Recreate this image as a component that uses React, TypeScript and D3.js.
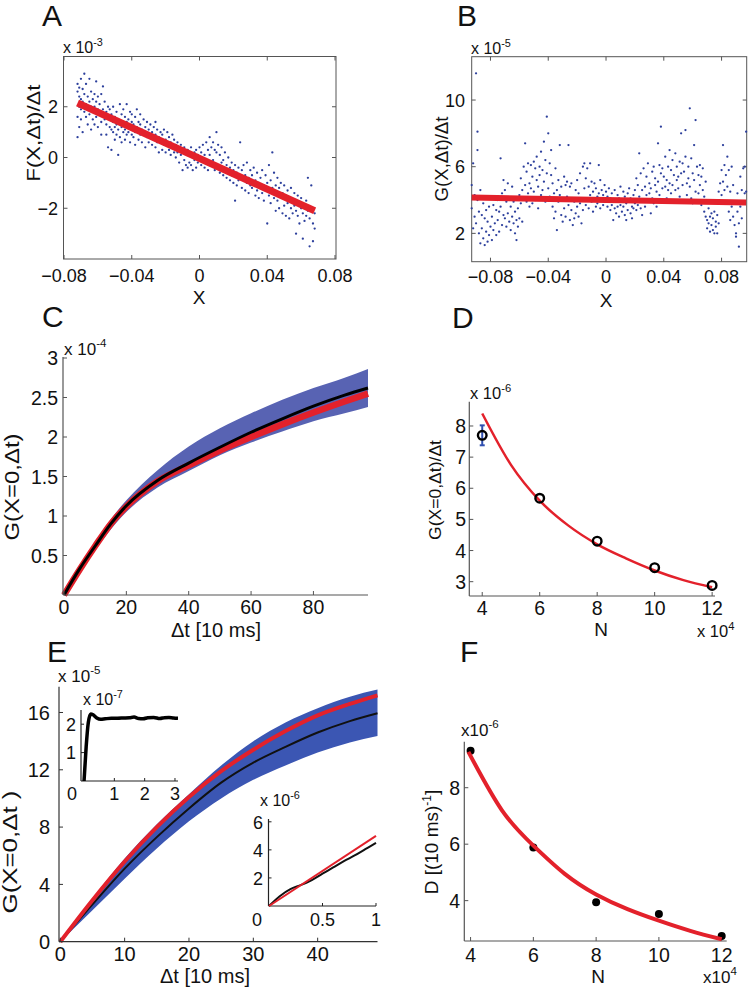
import React from "react";
import * as d3 from "d3";

const FONT = "'Liberation Sans', Arial, Helvetica, sans-serif";
const RED = "#e3212b";
const AXC = "#555";
const DOT = "#2c3f9c";

// ---------- Panel A: x in thousandths, y in 1e-3 units ----------
const aTicksX = [-0.08, -0.04, 0, 0.04, 0.08];
const aTickLabelsX = ["−0.08", "−0.04", "0", "0.04", "0.08"];
const aTicksY = [-2, 0, 2];
const aTickLabelsY = ["−2", "0", "2"];
const aFitX = [-0.072, 0.068];
const aFitY = [2.15, -2.1];
const aPoints: [number, number][] = [
[-72,2.9],[-72,2.6],[-72,1.6],[-72,0.8],[-71,2.4],[-71,2.0],[-71,1.2],[-71,2.75],[-70,3.1],[-70,2.3],[-70,1.9],[-70,1.5],[-69,2.7],[-69,2.2],[-69,1.0],[-68,3.3],[-68,2.5],[-68,1.8],[-67,2.9],[-67,2.1],[-67,1.6],[-66,2.4],[-66,1.9],[-66,1.3],[-65,3.1],[-65,2.2],[-65,1.7],[-64,2.6],[-64,2.0],[-64,1.1],[-63,2.3],[-63,1.8],[-63,1.5],[-62,2.5],[-62,2.0],[-62,1.3],[-61,3.0],[-61,2.2],[-61,1.6],[-60,2.4],[-60,1.9],[-60,1.2],
[-59,2.1],[-59,1.7],[-58,2.5],[-58,1.4],[-58,0.9],[-57,2.8],[-57,1.9],[-57,1.6],[-56,2.2],[-56,1.5],[-55,1.8],[-55,1.3],[-55,0.9],[-54,2.0],[-54,1.6],[-54,0.4],[-53,1.9],[-53,1.2],[-53,1.5],[-52,1.7],[-52,1.1],[-52,0.3],[-51,2.0],[-51,1.4],[-51,1.0],[-50,1.6],[-50,1.2],[-50,0.7],[-49,1.8],[-49,1.3],[-49,0.9],[-48,1.5],[-48,1.1],[-48,0.1],[-47,2.1],[-47,1.4],[-47,0.8],[-46,1.7],[-46,1.2],[-46,0.6],[-45,1.9],[-45,1.3],[-45,1.0],
[-44,1.6],[-44,1.1],[-44,0.7],[-43,2.1],[-43,1.4],[-43,0.9],[-42,1.5],[-42,1.0],[-41,1.8],[-41,1.2],[-41,0.6],[-40,1.4],[-40,0.9],[-40,1.7],[-39,1.3],[-39,0.8],[-38,1.6],[-38,1.0],[-38,0.5],[-37,1.9],[-37,1.2],[-36,1.4],[-36,0.7],[-35,1.3],[-35,0.9],[-35,1.7],[-34,1.1],[-34,0.6],[-33,1.5],[-33,1.0],[-32,1.2],[-32,0.4],[-31,1.4],[-31,0.8],[-30,1.1],[-30,0.6],
[-29,1.3],[-29,0.8],[-28,1.0],[-28,0.5],[-27,1.2],[-27,0.7],[-26,0.9],[-26,0.4],[-26,1.4],[-25,1.1],[-25,0.6],[-24,0.8],[-24,0.2],[-23,1.0],[-23,0.6],[-22,0.9],[-22,0.3],[-21,1.1],[-21,0.5],[-20,0.7],[-20,0.2],[-19,1.0],[-19,0.6],[-18,0.8],[-18,0.3],[-17,0.6],[-17,0.1],[-16,0.9],[-16,0.4],[-15,0.7],[-15,0.2],
[-14,0.5],[-14,0.0],[-13,0.6],[-13,0.2],[-12,0.3],[-12,-0.2],[-11,0.5],[-11,0.1],[-10,-0.5],[-10,0.3],[-9,0.4],[-9,-0.1],[-8,0.2],[-8,-0.3],[-7,0.3],[-7,-0.4],[-6,0.1],[-6,-0.2],[-5,0.4],[-5,-0.3],[-4,0.0],[-4,-0.5],[-3,0.2],[-3,-0.1],[-2,0.3],[-2,-0.4],[-1,0.1],[-1,-0.2],[0,0.4],[0,-0.1],
[1,0.2],[1,-0.3],[2,0.5],[2,-0.1],[3,0.1],[3,-0.4],[4,0.6],[4,-0.2],[5,0.3],[5,-0.5],[6,0.8],[6,0.1],[7,0.4],[7,-0.3],[8,0.6],[8,-0.1],[9,0.3],[9,-0.5],[10,1.0],[10,0.2],[11,0.5],[11,-0.4],[12,0.1],[12,-0.6],[13,0.4],[13,-0.2],[14,-0.1],[14,-0.7],[15,0.2],[15,-0.5],
[16,-0.3],[16,-0.8],[17,0.0],[17,-0.6],[18,-0.4],[18,-0.9],[19,-0.2],[19,-0.7],[20,-0.5],[20,-1.0],[21,-0.3],[21,-1.7],[22,-0.6],[22,-1.1],[23,-0.4],[23,-0.9],[24,0.6],[24,-0.7],[25,-0.5],[25,-1.2],[26,-0.3],[26,-0.9],[27,-0.7],[27,-1.3],[28,-0.2],[28,-1.0],[29,-0.8],[29,-1.4],[30,-0.5],[30,-1.1],
[31,-0.7],[31,-1.2],[32,-0.4],[32,-1.0],[33,-0.9],[33,-1.5],[34,-0.6],[34,-1.3],[35,-1.0],[35,-1.6],[36,-0.8],[36,-1.2],[37,-0.5],[37,-1.4],[38,-1.1],[38,-1.7],[39,-0.7],[39,-1.3],[40,-1.0],[40,-2.6],[41,-0.3],[41,-1.5],[42,-0.9],[42,-1.8],[43,0.2],[43,-1.2],[44,-0.6],[44,-1.6],[45,-1.1],[45,-2.1],
[46,-0.8],[46,-1.7],[47,-1.2],[47,-2.0],[48,-1.0],[48,-1.5],[49,-1.4],[49,-2.2],[50,-1.1],[50,-1.9],[51,-1.5],[51,-2.3],[52,-1.3],[52,-1.8],[53,-1.6],[53,-2.4],[54,-1.2],[54,-2.0],[55,-1.7],[55,-2.2],[56,-1.4],[56,-1.9],[57,-2.1],[57,-3.0],[58,-1.5],[58,-2.3],[59,-1.8],[59,-2.6],[60,-1.6],[60,-2.0],[61,-2.2],[61,-3.2],[62,-1.9],[62,-2.5],[63,-1.7],[63,-2.3],[64,-0.8],[64,-2.1],[65,-2.4],[65,-3.5],[66,-1.1],[66,-2.0],[67,-2.6],[67,-3.3],[68,-2.2],[68,-2.8]
];

// ---------- Panel B: x in thousandths, y in 1e-5 units ----------
const bTicksX = [-0.08, -0.04, 0, 0.04, 0.08];
const bTickLabelsX = ["−0.08", "−0.04", "0", "0.04", "0.08"];
const bTicksY = [2, 6, 10];
const bFitX = [-0.093, 0.097];
const bFitY = [4.15, 3.85];
const bPoints: [number, number][] = [
[-93,3.5],[-93,4.9],[-92,2.3],[-92,6.2],[-91,4.3],[-91,3.0],[-90,11.6],[-90,2.6],[-89,8.1],[-89,4.0],[-89,7.0],[-88,3.3],[-88,2.0],[-87,4.6],[-87,1.4],[-86,3.1],[-86,2.3],[-85,3.8],[-85,1.7],[-84,2.9],[-84,1.3],[-83,3.4],[-83,2.1],[-82,1.5],[-82,2.7],[-81,3.6],[-81,1.9],[-80,2.4],[-80,4.2],
[-79,3.0],[-79,1.6],[-78,2.2],[-78,3.7],[-77,4.2],[-77,2.6],[-76,3.4],[-76,1.9],[-75,2.8],[-75,4.0],[-74,3.3],[-74,2.1],[-73,6.5],[-73,3.6],[-72,2.5],[-72,4.4],[-71,3.1],[-71,5.2],[-70,2.9],[-70,4.6],[-69,3.9],[-69,2.4],[-68,5.0],[-68,3.2],[-67,4.1],[-67,2.7],[-66,3.6],[-66,2.2],[-65,4.8],[-65,3.0],[-64,2.6],[-64,3.9],[-63,3.3],[-63,2.0],[-62,2.8],[-62,1.6],[-61,3.5],[-61,2.4],[-60,4.3],[-60,2.9],
[-59,3.8],[-59,5.3],[-58,4.6],[-58,2.7],[-57,6.0],[-57,4.1],[-56,7.4],[-56,4.9],[-55,3.9],[-55,5.7],[-54,4.4],[-54,6.2],[-53,3.6],[-53,5.0],[-52,4.7],[-52,6.1],[-51,5.4],[-51,3.8],[-50,6.3],[-50,4.5],[-49,5.9],[-49,4.0],[-48,6.6],[-48,5.2],[-47,4.8],[-47,3.5],[-46,5.5],[-46,6.0],[-45,4.3],[-45,6.9],[-44,5.8],[-44,4.6],[-43,7.5],[-43,5.1],[-42,6.4],[-42,3.9],[-41,9.0],[-41,5.6],[-40,8.0],[-40,4.7],
[-39,6.2],[-39,4.2],[-38,5.5],[-38,7.0],[-37,3.6],[-37,5.0],[-36,4.4],[-36,2.9],[-35,5.9],[-35,3.3],[-34,4.6],[-34,2.2],[-33,5.2],[-33,3.9],[-32,7.3],[-32,4.3],[-31,3.1],[-31,4.8],[-30,2.7],[-30,4.0],[-29,3.5],[-29,5.4],[-28,4.9],[-28,3.0],[-27,4.2],[-27,5.1],[-26,7.3],[-26,3.7],[-25,4.8],[-25,2.8],[-24,3.4],[-24,5.0],[-23,2.5],[-23,4.1],[-22,3.9],[-22,2.9],[-21,4.6],[-21,3.2],[-20,5.2],[-20,3.6],
[-19,4.4],[-19,3.0],[-18,3.8],[-18,5.6],[-17,4.0],[-17,2.6],[-16,6.0],[-16,3.4],[-15,4.7],[-15,6.2],[-14,5.3],[-14,3.7],[-13,4.1],[-13,5.9],[-12,3.5],[-12,4.8],[-11,6.2],[-11,4.3],[-10,5.1],[-10,3.9],[-9,4.5],[-9,3.3],[-8,5.0],[-8,4.0],[-7,3.6],[-7,4.7],[-6,4.2],[-6,3.8],[-5,6.1],[-5,4.4],[-4,5.2],[-4,3.5],[-3,4.0],[-3,4.6],[-2,3.7],[-2,4.3],[-1,4.9],[-1,3.9],[0,4.1],[0,4.5],
[1,3.6],[1,4.2],[2,3.9],[2,4.7],[3,3.4],[3,4.1],[4,4.4],[4,3.7],[5,2.8],[5,4.0],[6,3.5],[6,4.6],[7,3.9],[7,3.2],[8,4.3],[8,3.6],[9,3.0],[9,4.1],[10,3.7],[10,4.8],[11,3.3],[11,4.0],[12,4.5],[12,3.6],[13,3.1],[13,4.2],[14,3.8],[14,2.8],[15,4.4],[15,3.4],[16,3.9],[16,4.7],[17,3.2],[17,4.1],[18,3.6],[18,2.9],[19,4.3],[19,3.5],[20,3.8],[20,4.6],
[21,3.4],[21,5.3],[22,4.9],[22,3.7],[23,6.8],[23,4.2],[24,3.5],[24,5.6],[25,4.6],[25,3.1],[26,5.9],[26,4.0],[27,4.8],[27,3.6],[28,5.4],[28,4.3],[29,6.2],[29,3.9],[30,5.0],[30,4.4],[31,4.7],[31,3.2],[32,5.7],[32,4.1],[33,6.0],[33,3.8],[34,4.9],[34,5.3],[35,3.6],[35,4.5],[36,7.4],[36,5.1],[37,6.1],[37,4.3],[38,8.4],[38,5.6],[39,4.7],[39,5.9],[40,4.0],[40,5.4],
[41,6.6],[41,4.8],[42,5.2],[42,4.1],[43,6.0],[43,4.6],[44,7.0],[44,5.0],[45,4.4],[45,5.8],[46,6.4],[46,4.9],[47,5.5],[47,3.9],[48,6.8],[48,4.6],[49,5.2],[49,6.0],[50,4.7],[50,5.4],[51,6.3],[51,4.2],[52,8.0],[52,5.6],[53,4.9],[53,6.2],[54,5.7],[54,4.0],[55,8.2],[55,6.6],[56,5.0],[56,4.3],[57,6.0],[57,5.3],[58,9.5],[58,4.8],[59,6.5],[59,4.1],[60,5.6],[60,3.8],
[61,7.3],[61,5.2],[62,8.8],[62,4.5],[63,6.0],[63,3.9],[64,5.5],[64,4.4],[65,6.1],[65,4.9],[66,5.4],[66,3.7],[67,5.9],[67,4.6],[68,4.2],[68,3.3],[69,5.1],[69,3.0],[70,2.8],[70,2.3],[71,3.5],[71,2.6],[72,2.1],[72,3.0],[73,2.5],[73,3.2],[74,2.2],[74,2.9],[75,2.0],[75,3.3],[76,2.7],[76,2.4],[77,3.1],[77,2.0],[78,4.5],[78,2.6],[79,3.8],[79,5.0],[80,4.3],[80,5.8],
[81,5.1],[81,7.3],[82,4.6],[82,6.1],[83,5.5],[83,3.9],[84,6.6],[84,4.8],[85,5.8],[85,3.3],[86,4.5],[86,2.8],[87,3.6],[87,6.0],[88,3.0],[88,4.9],[89,2.5],[89,3.8],[90,2.0],[90,1.8],[91,3.3],[91,4.4],[92,1.2],[92,2.6],[93,5.4],[93,3.6],[94,4.6],[94,2.9],[95,5.9],[95,3.8],[96,6.0],[96,4.4],[97,8.1],[97,4.5]
];

// ---------- Panel C: Δt [10 ms], G ×1e-4 ----------
const cTicksX = [0, 20, 40, 60, 80];
const cTicksY = [0.5, 1, 1.5, 2, 2.5, 3];
const cT = [0, 5, 10, 15, 20, 30, 40, 50, 60, 70, 80, 90, 97.5];
const cMean = [0, 0.33, 0.62, 0.9, 1.13, 1.45, 1.67, 1.87, 2.06, 2.23, 2.39, 2.53, 2.62];
const cFit = [0, 0.32, 0.62, 0.9, 1.12, 1.44, 1.64, 1.83, 2.0, 2.16, 2.31, 2.45, 2.55];
const cUpper = [0, 0.35, 0.67, 0.96, 1.2, 1.58, 1.88, 2.11, 2.3, 2.47, 2.62, 2.75, 2.86];
const cLower = [0, 0.3, 0.57, 0.83, 1.05, 1.36, 1.57, 1.77, 1.93, 2.07, 2.2, 2.3, 2.38];

// ---------- Panel D ----------
const dTicksX = [4, 6, 8, 10, 12];
const dTicksY = [3, 4, 5, 6, 7, 8];
const dN = [4, 6, 8, 10, 12];
const dVal = [7.7, 5.68, 4.3, 3.45, 2.88];
const dErrLow = [7.38];
const dErrHigh = [8.02];
const dFitN = [4, 5, 6, 7, 8, 9, 10, 11, 12];
const dFitV = [8.4, 6.75, 5.6, 4.8, 4.2, 3.75, 3.36, 3.05, 2.82];

// ---------- Panel E: G ×1e-5 ----------
const eTicksX = [0, 10, 20, 30, 40];
const eTicksY = [0, 4, 8, 12, 16];
const eT = [0, 5, 10, 15, 20, 25, 30, 35, 40, 45, 49.3];
const eMean = [0, 2.6, 5.1, 7.3, 9.3, 11.1, 12.5, 13.6, 14.6, 15.4, 15.95];
const eFit = [0, 2.9, 5.6, 8.0, 10.1, 11.9, 13.4, 14.7, 15.8, 16.6, 17.2];
const eUpper = [0, 3.0, 5.8, 8.2, 10.3, 12.3, 14.0, 15.3, 16.3, 17.1, 17.6];
const eLower = [0, 2.2, 4.4, 6.5, 8.4, 10.0, 11.3, 12.3, 13.2, 13.9, 14.35];
// inset 1 (×1e-7)
const i1TicksX = [1, 2, 3];
const i1TicksY = [1, 2];
const i1T = [0, 0.07, 0.14, 0.22, 0.3, 0.42, 0.55, 0.7, 0.9, 1.1, 1.3, 1.5, 1.65, 1.8, 1.95, 2.1, 2.3, 2.5, 2.65, 2.8, 2.95, 3.1];
const i1V = [0, 1.2, 2.05, 2.36, 2.33, 2.22, 2.17, 2.19, 2.21, 2.21, 2.22, 2.23, 2.25, 2.2, 2.19, 2.23, 2.24, 2.2, 2.23, 2.24, 2.22, 2.21];
// inset 2 (×1e-6)
const i2TicksX = [0.5, 1];
const i2TickLabelsX = ["0.5", "1"];
const i2TicksY = [2, 4, 6];
const i2T = [0, 0.1, 0.2, 0.3, 0.4, 0.5, 0.6, 0.7, 0.8, 0.9, 1.0];
const i2Mean = [0, 0.7, 1.2, 1.5, 1.85, 2.3, 2.75, 3.2, 3.6, 4.05, 4.5];
const i2FitT = [0, 1];
const i2Fit = [0, 5.0];

// ---------- Panel F ----------
const fTicksX = [4, 6, 8, 10, 12];
const fTicksY = [4, 6, 8];
const fN = [4, 6, 8, 10, 12];
const fVal = [9.31, 5.88, 3.94, 3.53, 2.75];
const fFitN = [3.93, 5, 6, 7, 8, 9, 10, 11, 12];
const fFitV = [9.27, 7.2, 5.95, 4.95, 4.22, 3.7, 3.29, 2.93, 2.63];

function Sci({ x, y, base, exp, fs, anchor = "start" }: any) {
  return (
    <text x={x} y={y} fontSize={fs} textAnchor={anchor}>
      {base}
      <tspan dy={-fs * 0.45} fontSize={fs * 0.68}>{exp}</tspan>
    </text>
  );
}

function YLabel({ x, y, text, fs, len }: any) {
  return (
    <text transform={`translate(${x},${y}) rotate(-90)`} textAnchor="middle" dominantBaseline="middle"
      fontSize={fs} textLength={len} lengthAdjust="spacingAndGlyphs">{text}</text>
  );
}

function LeftBottomAxes({ sx, sy, ticksX, ticksY, labelsX, labelsY, fs, xLabY, yLabX, x0, y0, x1, y1, tick = 4, color = AXC }: any) {
  return (
    <g>
      <line x1={x0} y1={y0} x2={x0} y2={y1} stroke={color} strokeWidth={1.2} />
      <line x1={x0} y1={y0} x2={x1} y2={y0} stroke={color} strokeWidth={1.2} />
      {ticksX.map((t: number, i: number) => (
        <g key={"x" + i}>
          <line x1={sx(t)} x2={sx(t)} y1={y0} y2={y0 - tick} stroke={color} strokeWidth={1} />
          <text x={sx(t)} y={xLabY} fontSize={fs} textAnchor="middle">{labelsX ? labelsX[i] : String(t)}</text>
        </g>
      ))}
      {ticksY.map((t: number, i: number) => (
        <g key={"y" + i}>
          <line x1={x0} x2={x0 + tick} y1={sy(t)} y2={sy(t)} stroke={color} strokeWidth={1} />
          <text x={yLabX} y={sy(t)} dy="0.36em" fontSize={fs} textAnchor="end">{labelsY ? labelsY[i] : String(t)}</text>
        </g>
      ))}
    </g>
  );
}

function PanelA() {
  const sx = d3.scaleLinear().domain([-0.08, 0.08]).range([64, 335]);
  const sy = d3.scaleLinear().domain([-4, 4]).range([259, 56]);
  const x0 = 63.5, x1 = 336, y0 = 259, y1 = 56.5;
  return (
    <g>
      <rect x={x0} y={y1} width={x1 - x0} height={y0 - y1} fill="none" stroke={AXC} strokeWidth={1} />
      {aTicksX.map((t, i) => (
        <g key={i}>
          <line x1={sx(t)} x2={sx(t)} y1={y0} y2={y0 - 4} stroke={AXC} />
          <line x1={sx(t)} x2={sx(t)} y1={y1} y2={y1 + 4} stroke={AXC} />
          <text x={sx(t)} y={281.5} fontSize={18} textAnchor="middle">{aTickLabelsX[i]}</text>
        </g>
      ))}
      {aTicksY.map((t, i) => (
        <g key={i}>
          <line x1={x0} x2={x0 + 4} y1={sy(t)} y2={sy(t)} stroke={AXC} />
          <line x1={x1} x2={x1 - 4} y1={sy(t)} y2={sy(t)} stroke={AXC} />
          <text x={58} y={sy(t)} dy="0.36em" fontSize={18} textAnchor="end">{aTickLabelsY[i]}</text>
        </g>
      ))}
      {aPoints.map((p, i) => (
        <circle key={i} cx={sx(p[0] / 1000)} cy={sy(p[1])} r={1.15} fill={DOT} />
      ))}
      <line x1={sx(aFitX[0])} y1={sy(aFitY[0])} x2={sx(aFitX[1])} y2={sy(aFitY[1])} stroke={RED} strokeWidth={7} />
      <Sci x={63} y={53} base="x 10" exp="-3" fs={16} />
      <text x={199} y={304} fontSize={19} textAnchor="middle">X</text>
      <YLabel x={35} y={133} text="F(X,Δt)/Δt" fs={19} len={97} />
    </g>
  );
}

function PanelB() {
  const sx = d3.scaleLinear().domain([-0.093, 0.0974]).range([471.7, 746.7]);
  const sy = d3.scaleLinear().domain([0.3, 12.6]).range([261.7, 56.7]);
  const x0 = 471.7, x1 = 746.7, y0 = 261.7, y1 = 56.7;
  return (
    <g>
      <rect x={x0} y={y1} width={x1 - x0} height={y0 - y1} fill="none" stroke={AXC} strokeWidth={1} />
      {bTicksX.map((t, i) => (
        <g key={i}>
          <line x1={sx(t)} x2={sx(t)} y1={y0} y2={y0 - 4} stroke={AXC} />
          <line x1={sx(t)} x2={sx(t)} y1={y1} y2={y1 + 4} stroke={AXC} />
          <text x={sx(t)} y={283} fontSize={18} textAnchor="middle">{bTickLabelsX[i]}</text>
        </g>
      ))}
      {bTicksY.map((t, i) => (
        <g key={i}>
          <line x1={x0} x2={x0 + 4} y1={sy(t)} y2={sy(t)} stroke={AXC} />
          <line x1={x1} x2={x1 - 4} y1={sy(t)} y2={sy(t)} stroke={AXC} />
          <text x={465} y={sy(t)} dy="0.36em" fontSize={18} textAnchor="end">{String(t)}</text>
        </g>
      ))}
      {bPoints.map((p, i) => (
        <circle key={i} cx={sx(p[0] / 1000)} cy={sy(p[1])} r={1.15} fill={DOT} />
      ))}
      <line x1={sx(bFitX[0])} y1={sy(bFitY[0])} x2={sx(bFitX[1])} y2={sy(bFitY[1])} stroke={RED} strokeWidth={6} />
      <Sci x={471} y={54} base="x 10" exp="-5" fs={16} />
      <text x={606} y={307} fontSize={19} textAnchor="middle">X</text>
      <YLabel x={443} y={159} text="G(X,Δt)/Δt" fs={18} len={85} />
    </g>
  );
}

function PanelC() {
  const sx = d3.scaleLinear().domain([0, 97.5]).range([64, 368]);
  const sy = d3.scaleLinear().domain([0, 3]).range([595, 358]);
  const area = d3.area<number>().x((_, i) => sx(cT[i])).y0((_, i) => sy(cLower[i])).y1((_, i) => sy(cUpper[i])).curve(d3.curveMonotoneX);
  const line = (v: number[]) => d3.line<number>().x((_, i) => sx(cT[i])).y((d) => sy(d)).curve(d3.curveMonotoneX)(v) || "";
  return (
    <g>
      <path d={area(cT) || ""} fill="#5863b3" />
      <path d={line(cFit)} fill="none" stroke={RED} strokeWidth={6.5} />
      <path d={line(cMean)} fill="none" stroke="#000" strokeWidth={3} />
      <LeftBottomAxes sx={sx} sy={sy} ticksX={cTicksX} ticksY={cTicksY} fs={19.5} xLabY={614} yLabX={58} x0={63} y0={595} x1={368} y1={357} />
      <Sci x={64} y={355} base="x 10" exp="-4" fs={17} />
      <text x={216} y={637} fontSize={20} textAnchor="middle">Δt [10 ms]</text>
      <YLabel x={14} y={487} text="G(X=0,Δt)" fs={20} len={107} />
    </g>
  );
}

function PanelD() {
  const sx = d3.scaleLinear().domain([3.55, 12.1]).range([469.3, 715]);
  const sy = d3.scaleLinear().domain([2.54, 8.78]).range([596, 401.7]);
  const fit = d3.line<number>().x((_, i) => sx(dFitN[i])).y((d) => sy(d)).curve(d3.curveMonotoneX)(dFitV) || "";
  return (
    <g>
      <LeftBottomAxes sx={sx} sy={sy} ticksX={dTicksX} ticksY={dTicksY} fs={19.5} xLabY={615} yLabX={466} x0={469.3} y0={596} x1={715} y1={401.7} />
      <path d={fit} fill="none" stroke={RED} strokeWidth={2.5} />
      {dErrLow.map((lo, i) => (
        <g key={i} stroke="#2f4fb0" strokeWidth={2}>
          <line x1={sx(dN[i])} x2={sx(dN[i])} y1={sy(lo)} y2={sy(dErrHigh[i])} />
          <line x1={sx(dN[i]) - 2.5} x2={sx(dN[i]) + 2.5} y1={sy(lo)} y2={sy(lo)} />
          <line x1={sx(dN[i]) - 2.5} x2={sx(dN[i]) + 2.5} y1={sy(dErrHigh[i])} y2={sy(dErrHigh[i])} />
        </g>
      ))}
      {dN.map((n, i) => (
        <circle key={i} cx={sx(n)} cy={sy(dVal[i])} r={4.3} fill="none" stroke="#000" strokeWidth={2.4} />
      ))}
      <Sci x={470} y={399} base="x 10" exp="-6" fs={16.5} />
      <text x={601} y={636} fontSize={19} textAnchor="middle">N</text>
      <Sci x={697} y={637} base="x 10" exp="4" fs={16.5} />
      <YLabel x={437} y={490} text="G(X=0,Δt)/Δt" fs={17} len={100} />
    </g>
  );
}

function PanelE() {
  const sx = d3.scaleLinear().domain([-0.2, 49.3]).range([59, 377.5]);
  const sy = d3.scaleLinear().domain([0, 17.8]).range([941.7, 686.7]);
  const area = d3.area<number>().x((_, i) => sx(eT[i])).y0((_, i) => sy(eLower[i])).y1((_, i) => sy(eUpper[i])).curve(d3.curveMonotoneX);
  const line = (v: number[]) => d3.line<number>().x((_, i) => sx(eT[i])).y((d) => sy(d)).curve(d3.curveMonotoneX)(v) || "";

  const i1x = d3.scaleLinear().domain([-0.1, 3.1]).range([81, 178]);
  const i1y = d3.scaleLinear().domain([0, 2.5]).range([781, 710]);
  const i1line = d3.line<number>().x((_, i) => i1x(i1T[i])).y((d) => i1y(d)).curve(d3.curveMonotoneX)(i1V) || "";

  const i2x = d3.scaleLinear().domain([0, 1]).range([269, 376]);
  const i2y = d3.scaleLinear().domain([0, 6.2]).range([906, 819]);
  const i2mean = d3.line<number>().x((_, i) => i2x(i2T[i])).y((d) => i2y(d)).curve(d3.curveMonotoneX)(i2Mean) || "";
  const i2fit = d3.line<number>().x((_, i) => i2x(i2FitT[i])).y((d) => i2y(d))(i2Fit) || "";
  return (
    <g>
      <path d={area(eT) || ""} fill="#3b56b3" />
      <path d={line(eMean)} fill="none" stroke="#111" strokeWidth={2} />
      <path d={line(eFit)} fill="none" stroke={RED} strokeWidth={4} />
      <LeftBottomAxes sx={sx} sy={sy} ticksX={eTicksX} ticksY={eTicksY} fs={20} xLabY={961} yLabX={50} x0={59} y0={941.7} x1={377.5} y1={686.7} color="#333" />
      <Sci x={58} y={682} base="x 10" exp="-5" fs={17} />
      <text x={205} y={983} fontSize={20} textAnchor="middle">Δt [10 ms]</text>
      <YLabel x={12} y={852} text="G(X=0,Δt )" fs={20} len={123} />

      {/* inset 1 */}
      <line x1={81} y1={710} x2={81} y2={781} stroke="#222" strokeWidth={1.2} />
      <line x1={81} y1={781} x2={178} y2={781} stroke="#222" strokeWidth={1.2} />
      {i1TicksX.map((t, i) => (
        <g key={i}>
          <line x1={i1x(t)} x2={i1x(t)} y1={781} y2={778} stroke="#222" />
          <text x={i1x(t)} y={800} fontSize={18} textAnchor="middle">{String(t)}</text>
        </g>
      ))}
      <text x={72} y={800} fontSize={18} textAnchor="middle">0</text>
      {i1TicksY.map((t, i) => (
        <g key={i}>
          <line x1={81} x2={84} y1={i1y(t)} y2={i1y(t)} stroke="#222" />
          <text x={76} y={i1y(t)} dy="0.36em" fontSize={18} textAnchor="end">{String(t)}</text>
        </g>
      ))}
      <path d={i1line} fill="none" stroke="#000" strokeWidth={3.5} strokeLinejoin="round" />
      <Sci x={83} y={705} base="x 10" exp="-7" fs={16} />

      {/* inset 2 */}
      <line x1={268.5} y1={819} x2={268.5} y2={906} stroke="#222" strokeWidth={1.2} />
      <line x1={268.5} y1={906} x2={376} y2={906} stroke="#222" strokeWidth={1.2} />
      {i2TicksX.map((t, i) => (
        <g key={i}>
          <line x1={i2x(t)} x2={i2x(t)} y1={906} y2={903} stroke="#222" />
          <text x={i2x(t)} y={926} fontSize={18} textAnchor="middle">{i2TickLabelsX[i]}</text>
        </g>
      ))}
      <text x={257} y={926} fontSize={18} textAnchor="middle">0</text>
      {i2TicksY.map((t, i) => (
        <g key={i}>
          <line x1={268.5} x2={271.5} y1={i2y(t)} y2={i2y(t)} stroke="#222" />
          <text x={263} y={i2y(t)} dy="0.4em" fontSize={18} textAnchor="end">{String(t)}</text>
        </g>
      ))}
      <path d={i2mean} fill="none" stroke="#111" strokeWidth={2} />
      <path d={i2fit} fill="none" stroke={RED} strokeWidth={2} />
      <Sci x={260} y={806} base="x 10" exp="-6" fs={16} />
    </g>
  );
}

function PanelF() {
  const sx = d3.scaleLinear().domain([3.8, 12.16]).range([464.3, 726.7]);
  const sy = d3.scaleLinear().domain([2.57, 9.63]).range([941, 741.7]);
  const fit = d3.line<number>().x((_, i) => sx(fFitN[i])).y((d) => sy(d)).curve(d3.curveNatural)(fFitV) || "";
  return (
    <g>
      <LeftBottomAxes sx={sx} sy={sy} ticksX={fTicksX} ticksY={fTicksY} fs={19.5} xLabY={962} yLabX={460} x0={464.3} y0={941} x1={726.7} y1={741.7} />
      {fN.map((n, i) => (
        <circle key={i} cx={sx(n)} cy={sy(fVal[i])} r={4} fill="#000" />
      ))}
      <path d={fit} fill="none" stroke={RED} strokeWidth={4} />
      <Sci x={461} y={736} base="x10" exp="-6" fs={17} />
      <text x={598} y={983} fontSize={19} textAnchor="middle">N</text>
      <Sci x={703} y={983} base="x10" exp="4" fs={17} />
      <text transform="translate(438,842) rotate(-90)" textAnchor="middle" fontSize={19}>
        D [(10 ms)<tspan dy={-7} fontSize={12}>-1</tspan><tspan dy={7}>]</tspan>
      </text>
    </g>
  );
}

export default function App() {
  return (
    <svg width={755} height={991} viewBox="0 0 755 991"
      style={{ position: "absolute", left: 0, top: 0, background: "#fff", fontFamily: FONT }}
      fill="#111">
      <rect x={0} y={0} width={755} height={991} fill="#fff" />
      <PanelA />
      <PanelB />
      <PanelC />
      <PanelD />
      <PanelE />
      <PanelF />
      <g fontSize={30}>
        <text x={42} y={26}>A</text>
        <text x={457} y={26}>B</text>
        <text x={42} y={327}>C</text>
        <text x={452} y={328}>D</text>
        <text x={47} y={662}>E</text>
        <text x={460} y={662}>F</text>
      </g>
    </svg>
  );
}
